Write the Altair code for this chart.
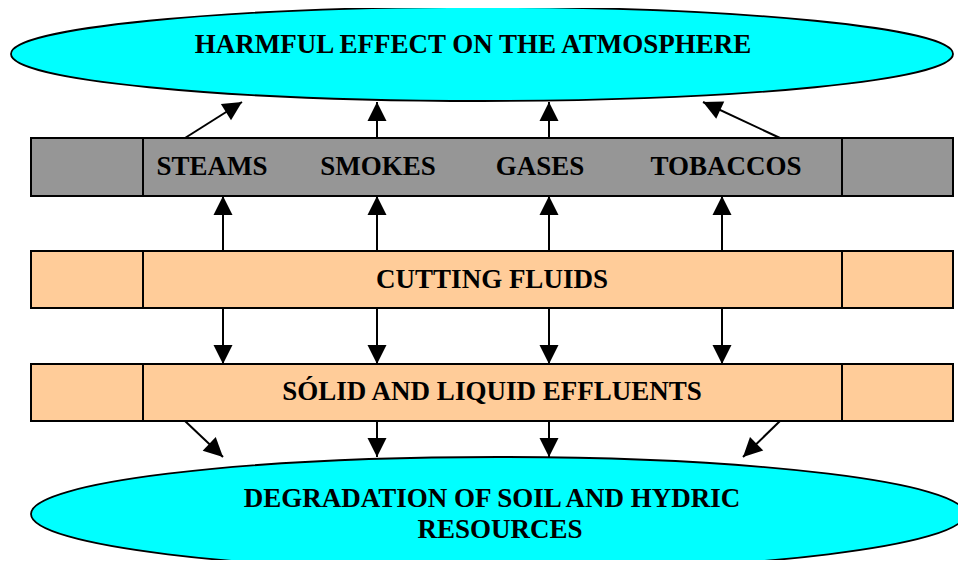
import math
import altair as alt
import pandas as pd

# ---- diagram content (image pixel coordinates) ----
ellipse_cx = [482, 498]
ellipse_cy = [54, 514]
ellipse_rx = [471, 467]
ellipse_ry = [47, 57]

row_y0 = [138, 251, 364]
row_y1 = [196, 308, 421]
row_fill = ["#969696", "#FFCC99", "#FFCC99"]
cell_x0 = [31, 143, 842]
cell_x1 = [143, 842, 953]

arrow_x0 = [185, 377, 549, 780, 223, 377, 549, 722, 223, 377, 549, 722, 185, 377, 549, 780]
arrow_y0 = [138] * 4 + [251] * 4 + [308] * 4 + [421] * 4
arrow_x1 = [242, 377, 549, 703, 223, 377, 549, 722, 223, 377, 549, 722, 223, 377, 549, 743]
arrow_y1 = [102] * 4 + [196] * 4 + [364] * 4 + [457] * 4

label_text = ["HARMFUL EFFECT ON THE ATMOSPHERE", "STEAMS", "SMOKES", "GASES", "TOBACCOS",
              "CUTTING FLUIDS", "SÓLID AND LIQUID EFFLUENTS",
              "DEGRADATION OF SOIL AND HYDRIC", "RESOURCES"]
label_x = [473, 212, 378, 540, 726, 492, 492, 492, 500]
label_y = [53, 175, 175, 175, 175, 288, 400, 507, 538]

W, H = 950, 552
xs = alt.Scale(domain=[8, 8 + W], range=[0, W])
ys = alt.Scale(domain=[8 + H, 8], range=[H, 0])


def ellipse_path(ratio):
    k = 0.5523
    r = ratio
    return (f"M -1 0 C -1 {-k*r} {-k} {-r} 0 {-r} C {k} {-r} 1 {-k*r} 1 0 "
            f"C 1 {k*r} {k} {r} 0 {r} C {-k} {r} -1 {k*r} -1 0 Z")


ell = pd.DataFrame({
    "x": ellipse_cx, "y": ellipse_cy,
    "shape": [ellipse_path(ry / rx) for rx, ry in zip(ellipse_rx, ellipse_ry)],
    "size": [(2 * rx) ** 2 for rx in ellipse_rx],
})

cells = pd.DataFrame([
    {"x0": a, "x1": b, "y0": y0, "y1": y1, "fill": f}
    for y0, y1, f in zip(row_y0, row_y1, row_fill)
    for a, b in zip(cell_x0, cell_x1)
])

arrows = pd.DataFrame({"x0": arrow_x0, "y0": arrow_y0, "x1": arrow_x1, "y1": arrow_y1})
arrows["angle"] = [
    math.degrees(math.atan2(x1 - x0, -(y1 - y0))) % 360
    for x0, y0, x1, y1 in zip(arrow_x0, arrow_y0, arrow_x1, arrow_y1)
]

labels = pd.DataFrame({"text": label_text, "x": label_x, "y": label_y})

ellipses = alt.Chart(ell).mark_point(filled=True, fill="#00FFFF", stroke="black",
                                     strokeWidth=1.8, opacity=1).encode(
    x=alt.X("x:Q", scale=xs, axis=None),
    y=alt.Y("y:Q", scale=ys, axis=None),
    shape=alt.Shape("shape:N", scale=None),
    size=alt.Size("size:Q", scale=None),
)

boxes = alt.Chart(cells).mark_rect(stroke="black", strokeWidth=2).encode(
    x=alt.X("x0:Q", scale=xs, axis=None), x2="x1:Q",
    y=alt.Y("y0:Q", scale=ys, axis=None), y2="y1:Q",
    fill=alt.Fill("fill:N", scale=None),
)

shafts = alt.Chart(arrows).mark_rule(color="black", strokeWidth=2).encode(
    x=alt.X("x0:Q", scale=xs, axis=None), x2="x1:Q",
    y=alt.Y("y0:Q", scale=ys, axis=None), y2="y1:Q",
)

heads = alt.Chart(arrows).mark_point(filled=True, fill="black", stroke=None, opacity=1,
                                     shape="M 0 0 L 0.5 1 L -0.5 1 Z", size=1444).encode(
    x=alt.X("x1:Q", scale=xs, axis=None),
    y=alt.Y("y1:Q", scale=ys, axis=None),
    angle=alt.Angle("angle:Q", scale=None),
)

texts = alt.Chart(labels).mark_text(font="Liberation Serif", fontWeight="bold", fontSize=27,
                                    baseline="alphabetic", align="center", color="black").encode(
    x=alt.X("x:Q", scale=xs, axis=None),
    y=alt.Y("y:Q", scale=ys, axis=None),
    text="text:N",
)

chart = alt.layer(ellipses, boxes, shafts, heads, texts).properties(
    width=W, height=H, padding=0, autosize=alt.AutoSizeParams(type="none"),
).configure_view(stroke=None)

chart.save("out.html", embed_options={"renderer": "svg", "actions": False})
